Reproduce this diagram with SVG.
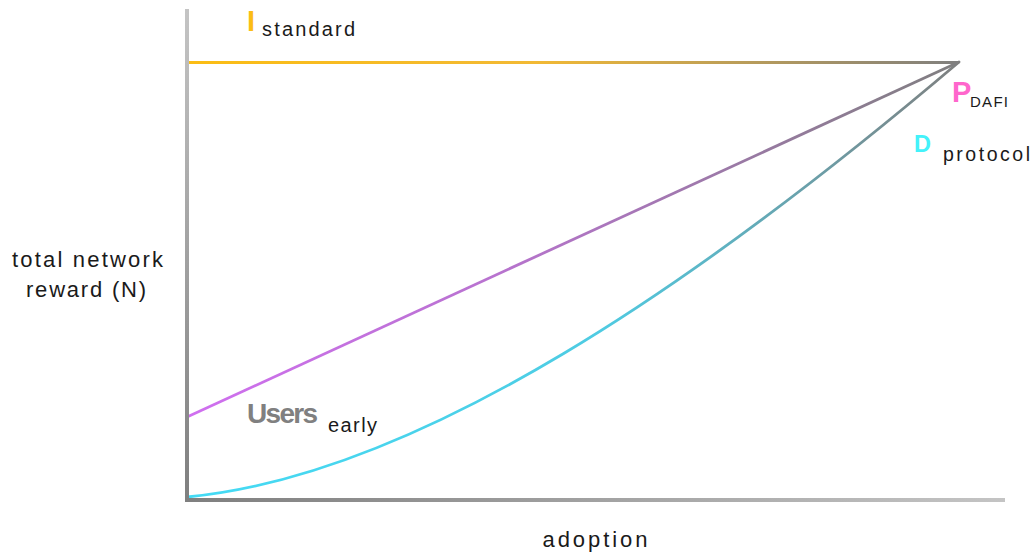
<svg xmlns="http://www.w3.org/2000/svg" width="1032" height="553" viewBox="0 0 1032 553">
  <style>
    .lbl { font-family: "Liberation Sans", Arial, sans-serif; fill: #1a1a1a; }
    .big { font-family: "Liberation Sans", Arial, sans-serif; font-weight: bold; }
    .curve { fill: none; stroke-linecap: round; }
  </style>
  <defs>
    <linearGradient id="gV" gradientUnits="userSpaceOnUse" x1="0" y1="9" x2="0" y2="502">
      <stop offset="0" stop-color="#c4c4c4"/>
      <stop offset="1" stop-color="#7f7f7f"/>
    </linearGradient>
    <linearGradient id="gH" gradientUnits="userSpaceOnUse" x1="185" y1="0" x2="1005" y2="0">
      <stop offset="0" stop-color="#7f7f7f"/>
      <stop offset="1" stop-color="#c4c4c4"/>
    </linearGradient>
    <linearGradient id="gO" gradientUnits="userSpaceOnUse" x1="187" y1="0" x2="959" y2="0">
      <stop offset="0" stop-color="#fbbd14"/>
      <stop offset="0.45" stop-color="#f2b934"/>
      <stop offset="1" stop-color="#7f7f7f"/>
    </linearGradient>
    <linearGradient id="gP" gradientUnits="userSpaceOnUse" x1="187" y1="417" x2="959" y2="62">
      <stop offset="0" stop-color="#d06ff0"/>
      <stop offset="0.4" stop-color="#b873cf"/>
      <stop offset="1" stop-color="#7f7f7f"/>
    </linearGradient>
    <linearGradient id="gC" gradientUnits="userSpaceOnUse" x1="187" y1="497" x2="959" y2="62">
      <stop offset="0" stop-color="#44dbf5"/>
      <stop offset="0.5" stop-color="#4fcbe2"/>
      <stop offset="1" stop-color="#7f7f7f"/>
    </linearGradient>
  </defs>

  <g id="connectors">
    <line id="standard-line" x1="187" y1="62.5" x2="959" y2="62.5" stroke="url(#gO)" stroke-width="3"/>
    <line id="dafi-line" x1="187" y1="417" x2="959" y2="62" stroke="url(#gP)" stroke-width="2.8"/>
    <path id="protocol-curve" class="curve" d="M187,497 C420,475 700,282 959,62" stroke="url(#gC)" stroke-width="2.8"/>
  </g>

  <g id="axes">
    <line id="y-axis" x1="187" y1="9" x2="187" y2="502" stroke="url(#gV)" stroke-width="4"/>
    <line id="x-axis" x1="185" y1="500" x2="1005" y2="500" stroke="url(#gH)" stroke-width="4"/>
  </g>

  <g id="label-standard">
    <text class="big" x="247" y="30.5" font-size="29" fill="#fbbd14">I</text>
    <text class="lbl" x="262" y="35.5" font-size="20" textLength="93">standard</text>
  </g>

  <g id="label-dafi">
    <text class="big" x="952" y="101.5" font-size="29" fill="#ff66cc">P</text>
    <text class="lbl" x="970" y="106.7" font-size="15" textLength="38">DAFI</text>
  </g>

  <g id="label-protocol">
    <text class="big" x="914" y="151.7" font-size="23.5" fill="#44f2fa">D</text>
    <text class="lbl" x="943" y="160.7" font-size="19.5" textLength="87">protocol</text>
  </g>

  <g id="label-users">
    <text class="big" x="247" y="423.3" font-size="28" fill="#808080" textLength="71">Users</text>
    <text class="lbl" x="328" y="431.7" font-size="20" textLength="49">early</text>
  </g>

  <g id="label-y-axis">
    <text class="lbl" x="87.5" y="266.7" font-size="22" text-anchor="middle" textLength="151">total network</text>
    <text class="lbl" x="86" y="297" font-size="22" text-anchor="middle" textLength="120">reward (N)</text>
  </g>

  <g id="label-x-axis">
    <text class="lbl" x="595" y="547.3" font-size="22" text-anchor="middle" textLength="105">adoption</text>
  </g>
</svg>
